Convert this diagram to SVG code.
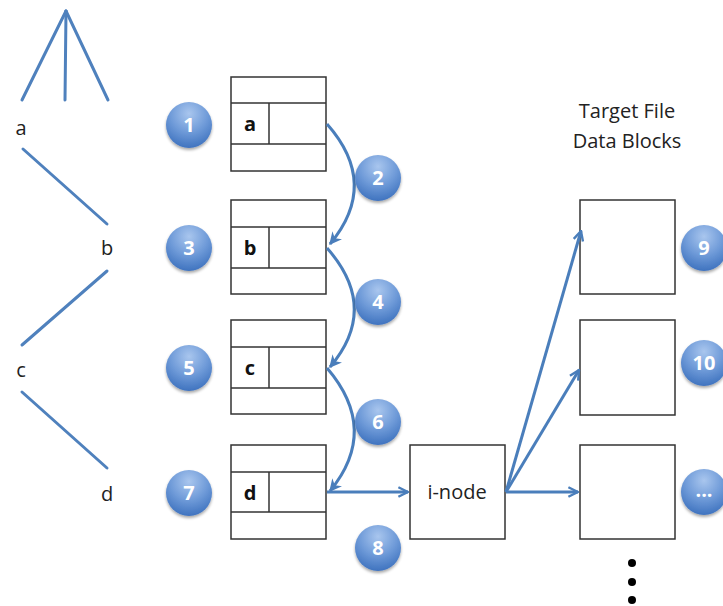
<svg xmlns="http://www.w3.org/2000/svg" width="723" height="606" viewBox="0 0 723 606">
  <defs>
    <radialGradient id="badgeFill" cx="50%" cy="25%" r="75%">
      <stop offset="0" stop-color="#a9c6ee"/>
      <stop offset="0.55" stop-color="#6e9ad8"/>
      <stop offset="1" stop-color="#3f73bf"/>
    </radialGradient>
    <filter id="badgeShadow" x="-30%" y="-30%" width="160%" height="170%">
      <feGaussianBlur in="SourceAlpha" stdDeviation="1.5"/>
      <feOffset dy="2" result="b"/>
      <feComponentTransfer><feFuncA type="linear" slope="0.35"/></feComponentTransfer>
      <feMerge><feMergeNode/><feMergeNode in="SourceGraphic"/></feMerge>
    </filter>
    <marker id="arrow" viewBox="0 0 10 10" refX="9" refY="5" markerWidth="4.2" markerHeight="4.2" orient="auto" markerUnits="strokeWidth">
      <path d="M0,0 L10,5 L0,10 L3,5 Z" fill="#4a7ebb"/>
    </marker>
    <marker id="vee" viewBox="0 0 10 10" refX="9" refY="5" markerWidth="4" markerHeight="4" orient="auto" markerUnits="strokeWidth">
      <path d="M1,1 L9,5 L1,9" fill="none" stroke="#4a7ebb" stroke-width="2"/>
    </marker>
  </defs>
  <style>
    .tree { stroke: #4f81bd; stroke-width: 3; stroke-linecap: round; fill: none; }
    .lbl { font-family: "Open Sans", "Liberation Sans", sans-serif; font-size: 20px; fill: #222; }
    .cell { font-family: "Open Sans", "Liberation Sans", sans-serif; font-size: 20px; font-weight: bold; fill: #111; }
    .box { fill: #fff; stroke: #333; stroke-width: 1.5; }
    .row { stroke: #333; stroke-width: 1.5; }
    .badge circle { fill: url(#badgeFill); filter: url(#badgeShadow); }
    .badge text { font-family: "Open Sans", "Liberation Sans", sans-serif; font-size: 20px; font-weight: bold; fill: #fff; text-anchor: middle; }
    .conn { stroke: #4a7ebb; stroke-width: 3; fill: none; }
    .dot { fill: #000; }
  </style>

  <rect width="723" height="606" fill="#fff"/>

  <!-- path tree on the left -->
  <g id="tree">
    <line class="tree" x1="66" y1="11" x2="22" y2="100"/>
    <line class="tree" x1="66" y1="11" x2="65" y2="100"/>
    <line class="tree" x1="66" y1="11" x2="108" y2="100"/>
    <line class="tree" x1="23" y1="149" x2="107" y2="224"/>
    <line class="tree" x1="107" y1="271" x2="22" y2="345"/>
    <line class="tree" x1="22" y1="392" x2="107" y2="468"/>
    <text class="lbl" x="21" y="135" text-anchor="middle">a</text>
    <text class="lbl" x="107" y="255" text-anchor="middle">b</text>
    <text class="lbl" x="21" y="377" text-anchor="middle">c</text>
    <text class="lbl" x="107" y="501" text-anchor="middle">d</text>
  </g>

  <!-- directory tables -->
  <g id="dir-a">
    <rect class="box" x="231" y="77" width="95" height="94"/>
    <line class="row" x1="231" y1="103" x2="326" y2="103"/>
    <line class="row" x1="231" y1="144" x2="326" y2="144"/>
    <line class="row" x1="269" y1="103" x2="269" y2="144"/>
    <text class="cell" x="250" y="131" text-anchor="middle">a</text>
  </g>
  <g id="dir-b">
    <rect class="box" x="231" y="200" width="95" height="94"/>
    <line class="row" x1="231" y1="227" x2="326" y2="227"/>
    <line class="row" x1="231" y1="268" x2="326" y2="268"/>
    <line class="row" x1="269" y1="227" x2="269" y2="268"/>
    <text class="cell" x="250" y="255" text-anchor="middle">b</text>
  </g>
  <g id="dir-c">
    <rect class="box" x="231" y="320" width="95" height="94"/>
    <line class="row" x1="231" y1="347" x2="326" y2="347"/>
    <line class="row" x1="231" y1="388" x2="326" y2="388"/>
    <line class="row" x1="269" y1="347" x2="269" y2="388"/>
    <text class="cell" x="250" y="375" text-anchor="middle">c</text>
  </g>
  <g id="dir-d">
    <rect class="box" x="231" y="445" width="95" height="94"/>
    <line class="row" x1="231" y1="472" x2="326" y2="472"/>
    <line class="row" x1="231" y1="512" x2="326" y2="512"/>
    <line class="row" x1="269" y1="472" x2="269" y2="512"/>
    <text class="cell" x="250" y="500" text-anchor="middle">d</text>
  </g>

  <!-- i-node -->
  <g id="inode">
    <rect class="box" x="410" y="445" width="95" height="94"/>
    <text class="lbl" x="457" y="499" text-anchor="middle" fill="#333">i-node</text>
  </g>

  <!-- data blocks -->
  <g id="blocks-title">
    <text class="lbl" x="627" y="118" text-anchor="middle" fill="#333">Target File</text>
    <text class="lbl" x="627" y="148" text-anchor="middle" fill="#333">Data Blocks</text>
  </g>
  <g id="block-1"><rect class="box" x="580" y="200" width="95" height="94"/></g>
  <g id="block-2"><rect class="box" x="580" y="320" width="95" height="95"/></g>
  <g id="block-3"><rect class="box" x="580" y="445" width="95" height="94"/></g>
  <g id="more-blocks">
    <circle class="dot" cx="632" cy="563" r="4"/>
    <circle class="dot" cx="632" cy="582" r="4"/>
    <circle class="dot" cx="632" cy="600" r="4"/>
  </g>

  <!-- connectors -->
  <g id="connectors">
    <path class="conn" d="M327,124 Q380,184 330,244" marker-end="url(#arrow)"/>
    <path class="conn" d="M327,248 Q380,308 330,367" marker-end="url(#arrow)"/>
    <path class="conn" d="M327,368 Q380,430 330,491" marker-end="url(#arrow)"/>
    <line class="conn" x1="327" y1="492" x2="408" y2="492" marker-end="url(#vee)"/>
    <line class="conn" x1="506" y1="492" x2="581" y2="231" marker-end="url(#vee)"/>
    <line class="conn" x1="506" y1="492" x2="579" y2="370" marker-end="url(#vee)"/>
    <line class="conn" x1="506" y1="492" x2="578" y2="492" marker-end="url(#vee)"/>
  </g>

  <!-- step badges -->
  <g id="badge-1" class="badge"><circle cx="189" cy="125" r="23"/><text x="189" y="132">1</text></g>
  <g id="badge-2" class="badge"><circle cx="378" cy="178" r="23"/><text x="378" y="185">2</text></g>
  <g id="badge-3" class="badge"><circle cx="189" cy="248" r="23"/><text x="189" y="255">3</text></g>
  <g id="badge-4" class="badge"><circle cx="378" cy="302" r="23"/><text x="378" y="309">4</text></g>
  <g id="badge-5" class="badge"><circle cx="189" cy="368" r="23"/><text x="189" y="375">5</text></g>
  <g id="badge-6" class="badge"><circle cx="378" cy="422" r="23"/><text x="378" y="429">6</text></g>
  <g id="badge-7" class="badge"><circle cx="189" cy="493" r="23"/><text x="189" y="500">7</text></g>
  <g id="badge-8" class="badge"><circle cx="378" cy="548" r="23"/><text x="378" y="555">8</text></g>
  <g id="badge-9" class="badge"><circle cx="704" cy="248" r="23"/><text x="704" y="255">9</text></g>
  <g id="badge-10" class="badge"><circle cx="704" cy="363" r="23"/><text x="704" y="370">10</text></g>
  <g id="badge-more" class="badge"><circle cx="704" cy="492" r="23"/><text x="704" y="497">...</text></g>
</svg>
